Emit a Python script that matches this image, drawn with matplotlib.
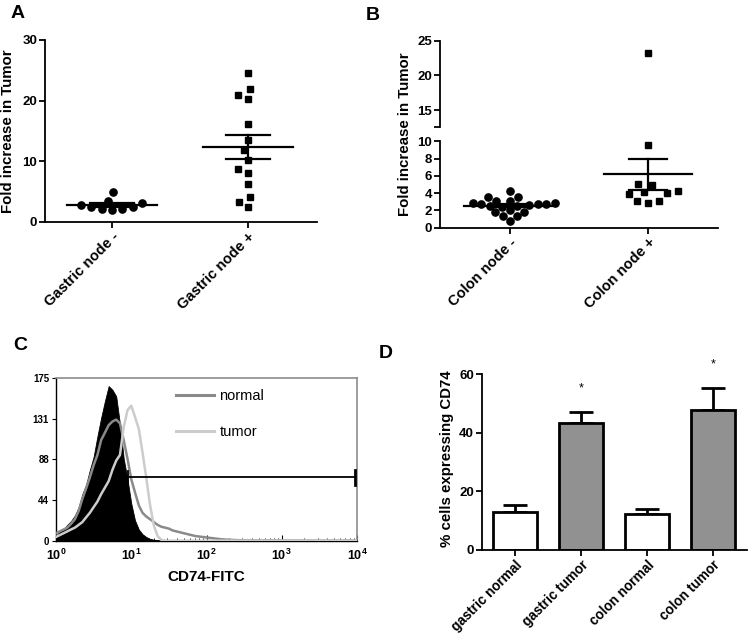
import numpy as np
import matplotlib
matplotlib.use('Agg')
import matplotlib.pyplot as plt

plt.rcParams['font.family'] = ['Liberation Sans', 'DejaVu Sans']
plt.rcParams['font.weight'] = 'bold'
plt.rcParams['mathtext.fontset'] = 'custom'
plt.rcParams['mathtext.rm'] = 'Liberation Sans:bold'
plt.rcParams['mathtext.bf'] = 'Liberation Sans:bold'
plt.rcParams['axes.linewidth'] = 1.3

# ---------------- data ----------------
# Panel A
a_categories = ['Gastric node -', 'Gastric node +']
gastric_neg = [3.2, 2.5, 2.1, 1.9, 5.0, 2.1, 2.4, 2.8, 3.5]
gastric_pos = [24.6, 22.0, 20.3, 20.9, 16.1, 13.5, 11.9, 10.3, 8.7, 8.1, 6.3, 4.2, 3.3, 2.5]

# Panel B
b_categories = ['Colon node -', 'Colon node +']
colon_neg = [3.1, 2.9, 2.8, 2.7, 4.3, 3.5, 3.5, 2.6, 2.5, 2.4, 2.8, 2.9, 3.1,
             1.8, 1.4, 0.8, 1.4, 1.8, 2.0, 2.5]
colon_pos = [23.2, 9.6, 5.1, 5.0, 4.2, 4.0, 3.1, 2.9, 3.1, 3.9, 4.1]

# Panel C (flow cytometry histograms)
fitc = [1.00, 1.12, 1.26, 1.41, 1.58, 1.78, 2.00, 2.24, 2.51, 2.82,
        3.16, 3.55, 3.98, 4.47, 5.01, 5.62, 6.31, 7.08, 7.94, 8.91,
        10.0, 11.2, 12.6, 14.1, 15.8, 17.8, 20.0, 22.4, 25.1, 28.2,
        31.6, 35.5, 39.8, 44.7, 50.1, 56.2, 63.1, 70.8, 79.4, 89.1,
        100, 112, 126, 141, 158, 178, 200, 224, 251, 282,
        316, 1000, 10000]
control_counts = [5, 10, 12, 17, 21, 27, 36, 50, 60, 76,
                  90, 112, 132, 150, 166, 162, 155, 125, 88, 66,
                  40, 22, 12, 7, 4, 2, 1, 0.5, 0, 0,
                  0, 0, 0, 0, 0, 0, 0, 0, 0, 0,
                  0, 0, 0, 0, 0, 0, 0, 0, 0, 0,
                  0, 0, 0]
normal_counts = [8, 10, 12, 14, 18, 23, 32, 45, 56, 68,
                 81, 92, 108, 116, 124, 128, 130, 126, 108, 88,
                 66, 52, 38, 30, 26, 23, 20, 17, 15, 14,
                 13, 11, 10, 9, 8, 7, 6, 5, 4.5, 4,
                 3.5, 3, 2.5, 2, 1.5, 1.2, 1, 0.8, 0.6, 0.5,
                 0.4, 0.2, 0.1]
tumor_counts = [4, 6, 8, 10, 12, 14, 17, 20, 25, 30,
                36, 42, 50, 57, 64, 76, 86, 92, 122, 140,
                145, 133, 120, 95, 68, 38, 16, 5, 1, 0,
                0, 0, 0, 0, 0, 0, 0, 0, 0, 0,
                0, 0, 0, 0, 0, 0, 0, 0, 0, 0,
                0, 0, 0]
gate_range = [9.0, 9300.0]
gate_level = 68
c_yticks = [0, 44, 88, 131, 175]
c_xticks = [1, 10, 100, 1000, 10000]

# Panel D
d_categories = ['gastric normal', 'gastric tumor', 'colon normal', 'colon tumor']
d_values = [12.9, 43.4, 12.4, 47.8]
d_errors = [2.6, 3.7, 1.5, 7.6]
d_significant = [False, True, False, True]

# ---------------- figure ----------------
W, H = 750, 636
fig = plt.figure(figsize=(W / 100, H / 100), dpi=100)


def rect(x0, y0, x1, y1):
    return [x0 / W, 1 - y1 / H, (x1 - x0) / W, (y1 - y0) / H]


def fpos(x, y):
    return x / W, 1 - y / H


def swarm_x(values, center, diam_px, ax_for):
    ys = [ax_for(v).transData.transform((center, v))[1] for v in values]
    order = np.argsort(values, kind='stable')
    placed = []
    xo = [0.0] * len(values)
    for i in order:
        y = ys[i]
        cands = [0.0]
        for (xp, yp) in placed:
            dy = y - yp
            if abs(dy) < diam_px:
                dx = np.sqrt(diam_px ** 2 - dy ** 2)
                cands += [xp + dx, xp - dx]
        cands.sort(key=lambda c: (abs(c), c))
        for c in cands:
            if all((c - xp) ** 2 + (y - yp) ** 2 >= diam_px ** 2 - 1e-6 for xp, yp in placed):
                xo[i] = c
                placed.append((c, y))
                break
    ax0 = ax_for(values[0])
    ppu = ax0.transData.transform((1, 0))[0] - ax0.transData.transform((0, 0))[0]
    return [center + o / ppu for o in xo]


def mean_sem(ax, values, xc, mean_hw, sem_hw, lw=1.6):
    v = np.asarray(values, float)
    m = v.mean()
    s = v.std(ddof=1) / np.sqrt(len(v))
    ax.plot([xc - mean_hw, xc + mean_hw], [m, m], color='black', lw=lw, zorder=4)
    ax.plot([xc - sem_hw, xc + sem_hw], [m + s, m + s], color='black', lw=lw, zorder=4)
    ax.plot([xc - sem_hw, xc + sem_hw], [m - s, m - s], color='black', lw=lw, zorder=4)
    ax.plot([xc, xc], [m - s, m + s], color='black', lw=lw, zorder=4)


def style_cat_axes(ax):
    for sp in ['top', 'right']:
        ax.spines[sp].set_visible(False)
    ax.tick_params(axis='both', direction='out', length=4, width=1.3, labelsize=9.5, pad=1.5)


xtick_font = dict(fontsize=10.5, fontweight='bold')
ylab_font = dict(fontsize=10.8, fontweight='bold')

# ---------------- Panel A ----------------
axA = fig.add_axes(rect(45, 40, 317, 222))
style_cat_axes(axA)
axA.set_xlim(-0.493, 1.507)
axA.set_ylim(0, 30)
axA.set_yticks([0, 10, 20, 30])
axA.set_xticks([0, 1])
axA.set_xticklabels(a_categories, rotation=45, ha='right', va='top',
                    rotation_mode='anchor', **xtick_font)
xs = swarm_x(gastric_neg, 0, 10.5, lambda v: axA)
axA.plot(xs, gastric_neg, 'o', color='black', ms=5.2, zorder=3)
xs = swarm_x(gastric_pos, 1, 10.5, lambda v: axA)
axA.plot(xs, gastric_pos, 's', color='black', ms=5.0, zorder=3)
mean_sem(axA, gastric_neg, 0, 0.33, 0.165)
mean_sem(axA, gastric_pos, 1, 0.33, 0.165)
fig.text(*fpos(8, 131), 'Fold increase in Tumor', rotation=90, ha='center',
         va='center', **ylab_font)

# ---------------- Panel B ----------------
axB = fig.add_axes(rect(440, 141.3, 718, 227.7))
axBt = fig.add_axes(rect(440, 40.7, 718, 127))
style_cat_axes(axB)
style_cat_axes(axBt)
axBt.spines['bottom'].set_visible(False)
axBt.patch.set_visible(False)
axBt.tick_params(axis='x', bottom=False, labelbottom=False)
break_val = 10
for ax in (axB, axBt):
    ax.set_xlim(-0.507, 1.507)
axB.set_ylim(0, 10)
axB.set_yticks([0, 2, 4, 6, 8, 10])
axBt.set_ylim(12.6, 25)
axBt.set_yticks([12.6, 15, 20, 25])
axBt.set_yticklabels(['', '15', '20', '25'])
axB.set_xticks([0, 1])
axB.set_xticklabels(b_categories, rotation=45, ha='right', va='top',
                    rotation_mode='anchor', **xtick_font)

pick = lambda v: axB if v <= break_val else axBt
xs = swarm_x(colon_neg, 0, 8.5, pick)
axB.plot(xs, colon_neg, 'o', color='black', ms=5.2, zorder=3)
xs = swarm_x(colon_pos, 1, 11, pick)
for x, v in zip(xs, colon_pos):
    pick(v).plot([x], [v], 's', color='black', ms=5.0, zorder=3, clip_on=False)
mean_sem(axB, colon_neg, 0, 0.33, 0.14)
mean_sem(axB, colon_pos, 1, 0.32, 0.14)
fig.text(*fpos(405, 134), 'Fold increase in Tumor', rotation=90, ha='center',
         va='center', **ylab_font)

# ---------------- Panel C ----------------
axC = fig.add_axes(rect(56, 377.7, 357, 540.7))
axC.set_xscale('log')
axC.set_xlim(1, 10000)
axC.set_ylim(0, 175)
axC.fill_between(fitc, control_counts, 0, color='black', lw=0.6, edgecolor='black', zorder=2)
axC.plot(fitc, normal_counts, color='#8a8a8a', lw=1.8, zorder=3, label='normal')
axC.plot(fitc, tumor_counts, color='#cccccc', lw=1.8, zorder=4, label='tumor')
axC.plot(gate_range, [gate_level, gate_level], color='black', lw=1.3, zorder=5)
axC.plot([gate_range[0]] * 2, [gate_level - 7, gate_level + 7], color='black', lw=1.3, zorder=5)
axC.plot([gate_range[1]] * 2, [gate_level - 8, gate_level + 8], color='black', lw=2.0, zorder=5)
axC.set_yticks(c_yticks)
axC.set_yticklabels([str(t) for t in c_yticks], fontsize=7, fontweight='bold')
axC.set_xticks(c_xticks)
axC.set_xticklabels([r'$\mathbf{10^{%d}}$' % int(np.log10(t)) for t in c_xticks], fontsize=9)
axC.tick_params(axis='x', which='major', direction='in', length=4, width=0.8, pad=5)
axC.tick_params(axis='x', which='minor', direction='in', length=2, width=0.6)
axC.tick_params(axis='y', direction='out', length=3, width=0.8, pad=2)
for sp in ['top', 'right']:
    axC.spines[sp].set_color('#8c8c8c')
    axC.spines[sp].set_linewidth(1.2)
for sp in ['left', 'bottom']:
    axC.spines[sp].set_color('black')
    axC.spines[sp].set_linewidth(1.0)
axC.set_xlabel('CD74-FITC', fontsize=11, fontweight='bold', labelpad=5)
leg = axC.legend(loc='upper left', bbox_to_anchor=(0.40, 0.93), frameon=False,
                 borderpad=0, borderaxespad=0, handlelength=2.6, handletextpad=0.35,
                 labelspacing=1.5, prop={'size': 10.5, 'weight': 'normal'})
for line in leg.get_lines():
    line.set_linewidth(2.2)

# ---------------- Panel D ----------------
axD = fig.add_axes(rect(481.7, 374.3, 746.7, 550))
style_cat_axes(axD)
axD.set_xlim(-0.51, 3.51)
axD.set_ylim(0, 60)
axD.set_yticks([0, 20, 40, 60])
xd = np.arange(len(d_categories))
colors = ['#919191' if s else 'white' for s in d_significant]
axD.bar(xd, d_values, width=0.667, color=colors, edgecolor='black', linewidth=2.0, zorder=2)
axD.errorbar(xd, d_values, yerr=[np.zeros(len(d_errors)), d_errors], fmt='none',
             ecolor='black', elinewidth=2.0, capsize=8.5, capthick=2.0, zorder=1)
for x, v, e, s in zip(xd, d_values, d_errors, d_significant):
    if s:
        axD.text(x, v + e + 8, '*', ha='center', va='center', fontsize=9,
                 fontweight='normal', clip_on=False)
axD.set_xticks(xd)
axD.set_xticklabels(d_categories, rotation=45, ha='right', va='top',
                    rotation_mode='anchor', fontsize=9.8, fontweight='bold')
fig.text(*fpos(447, 459), '% cells expressing CD74', rotation=90, ha='center',
         va='center', **ylab_font)

# ---------------- panel letters ----------------
for lab, (x, y) in zip('ABCD', [(18, 14), (373, 15), (20, 345), (386, 353)]):
    fig.text(*fpos(x, y), lab, ha='center', va='center', fontsize=14, fontweight='bold')

fig.savefig('out.png', dpi=100)
